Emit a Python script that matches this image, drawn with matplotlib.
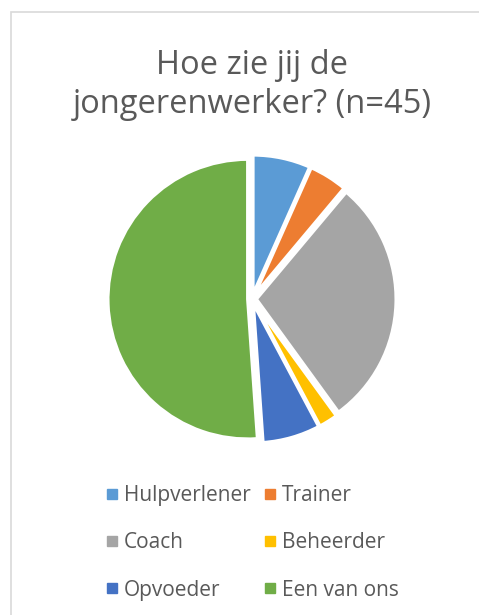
import matplotlib.pyplot as plt
from matplotlib.lines import Line2D
from matplotlib.patches import Rectangle

# Data (n=45)
categories = ["Hulpverlener", "Trainer", "Coach", "Beheerder", "Opvoeder", "Een van ons"]
counts = [3, 2, 13, 1, 3, 23]
colors = ["#5B9BD5", "#ED7D31", "#A5A5A5", "#FFC000", "#4472C4", "#70AD47"]

plt.rcParams["font.family"] = ["Open Sans", "DejaVu Sans"]

W, H = 479, 615
fig = plt.figure(figsize=(W / 100, H / 100), dpi=100)

# chart frame
fig.patches.append(Rectangle((11 / W, -0.01), 1.0, 1 - 12 / H + 0.01,
                             transform=fig.transFigure, fill=False,
                             edgecolor="#D9D9D9", linewidth=1.2))

fig.text(252 / W, 1 - 85 / H, "Hoe zie jij de\njongerenwerker? (n=45)",
         ha="center", va="center", fontsize=23.5, color="#595959",
         linespacing=1.25)

side = 350
ax = fig.add_axes([(252 - side / 2) / W, 1 - (299 + side / 2) / H, side / W, side / H])
ax.pie(counts, colors=colors, startangle=90, counterclock=False,
       explode=[0.03] * len(counts),
       wedgeprops=dict(edgecolor="white", linewidth=2.5))
ax.set_aspect("equal")

# legend in rows of two (matplotlib fills columns first)
order = [0, 2, 4, 1, 3, 5]
handles = [Line2D([], [], marker="s", linestyle="none", markersize=7,
                  markerfacecolor=colors[i], markeredgecolor=colors[i]) for i in order]
labels = [categories[i] for i in order]
fig.legend(handles, labels, ncol=2, loc="center", bbox_to_anchor=(250 / W, 1 - 543 / H),
           frameon=False, fontsize=15, labelcolor="#595959",
           handletextpad=0.1, columnspacing=0.4, labelspacing=1.25,
           handlelength=1.0)

fig.savefig("out.png", dpi=100)
